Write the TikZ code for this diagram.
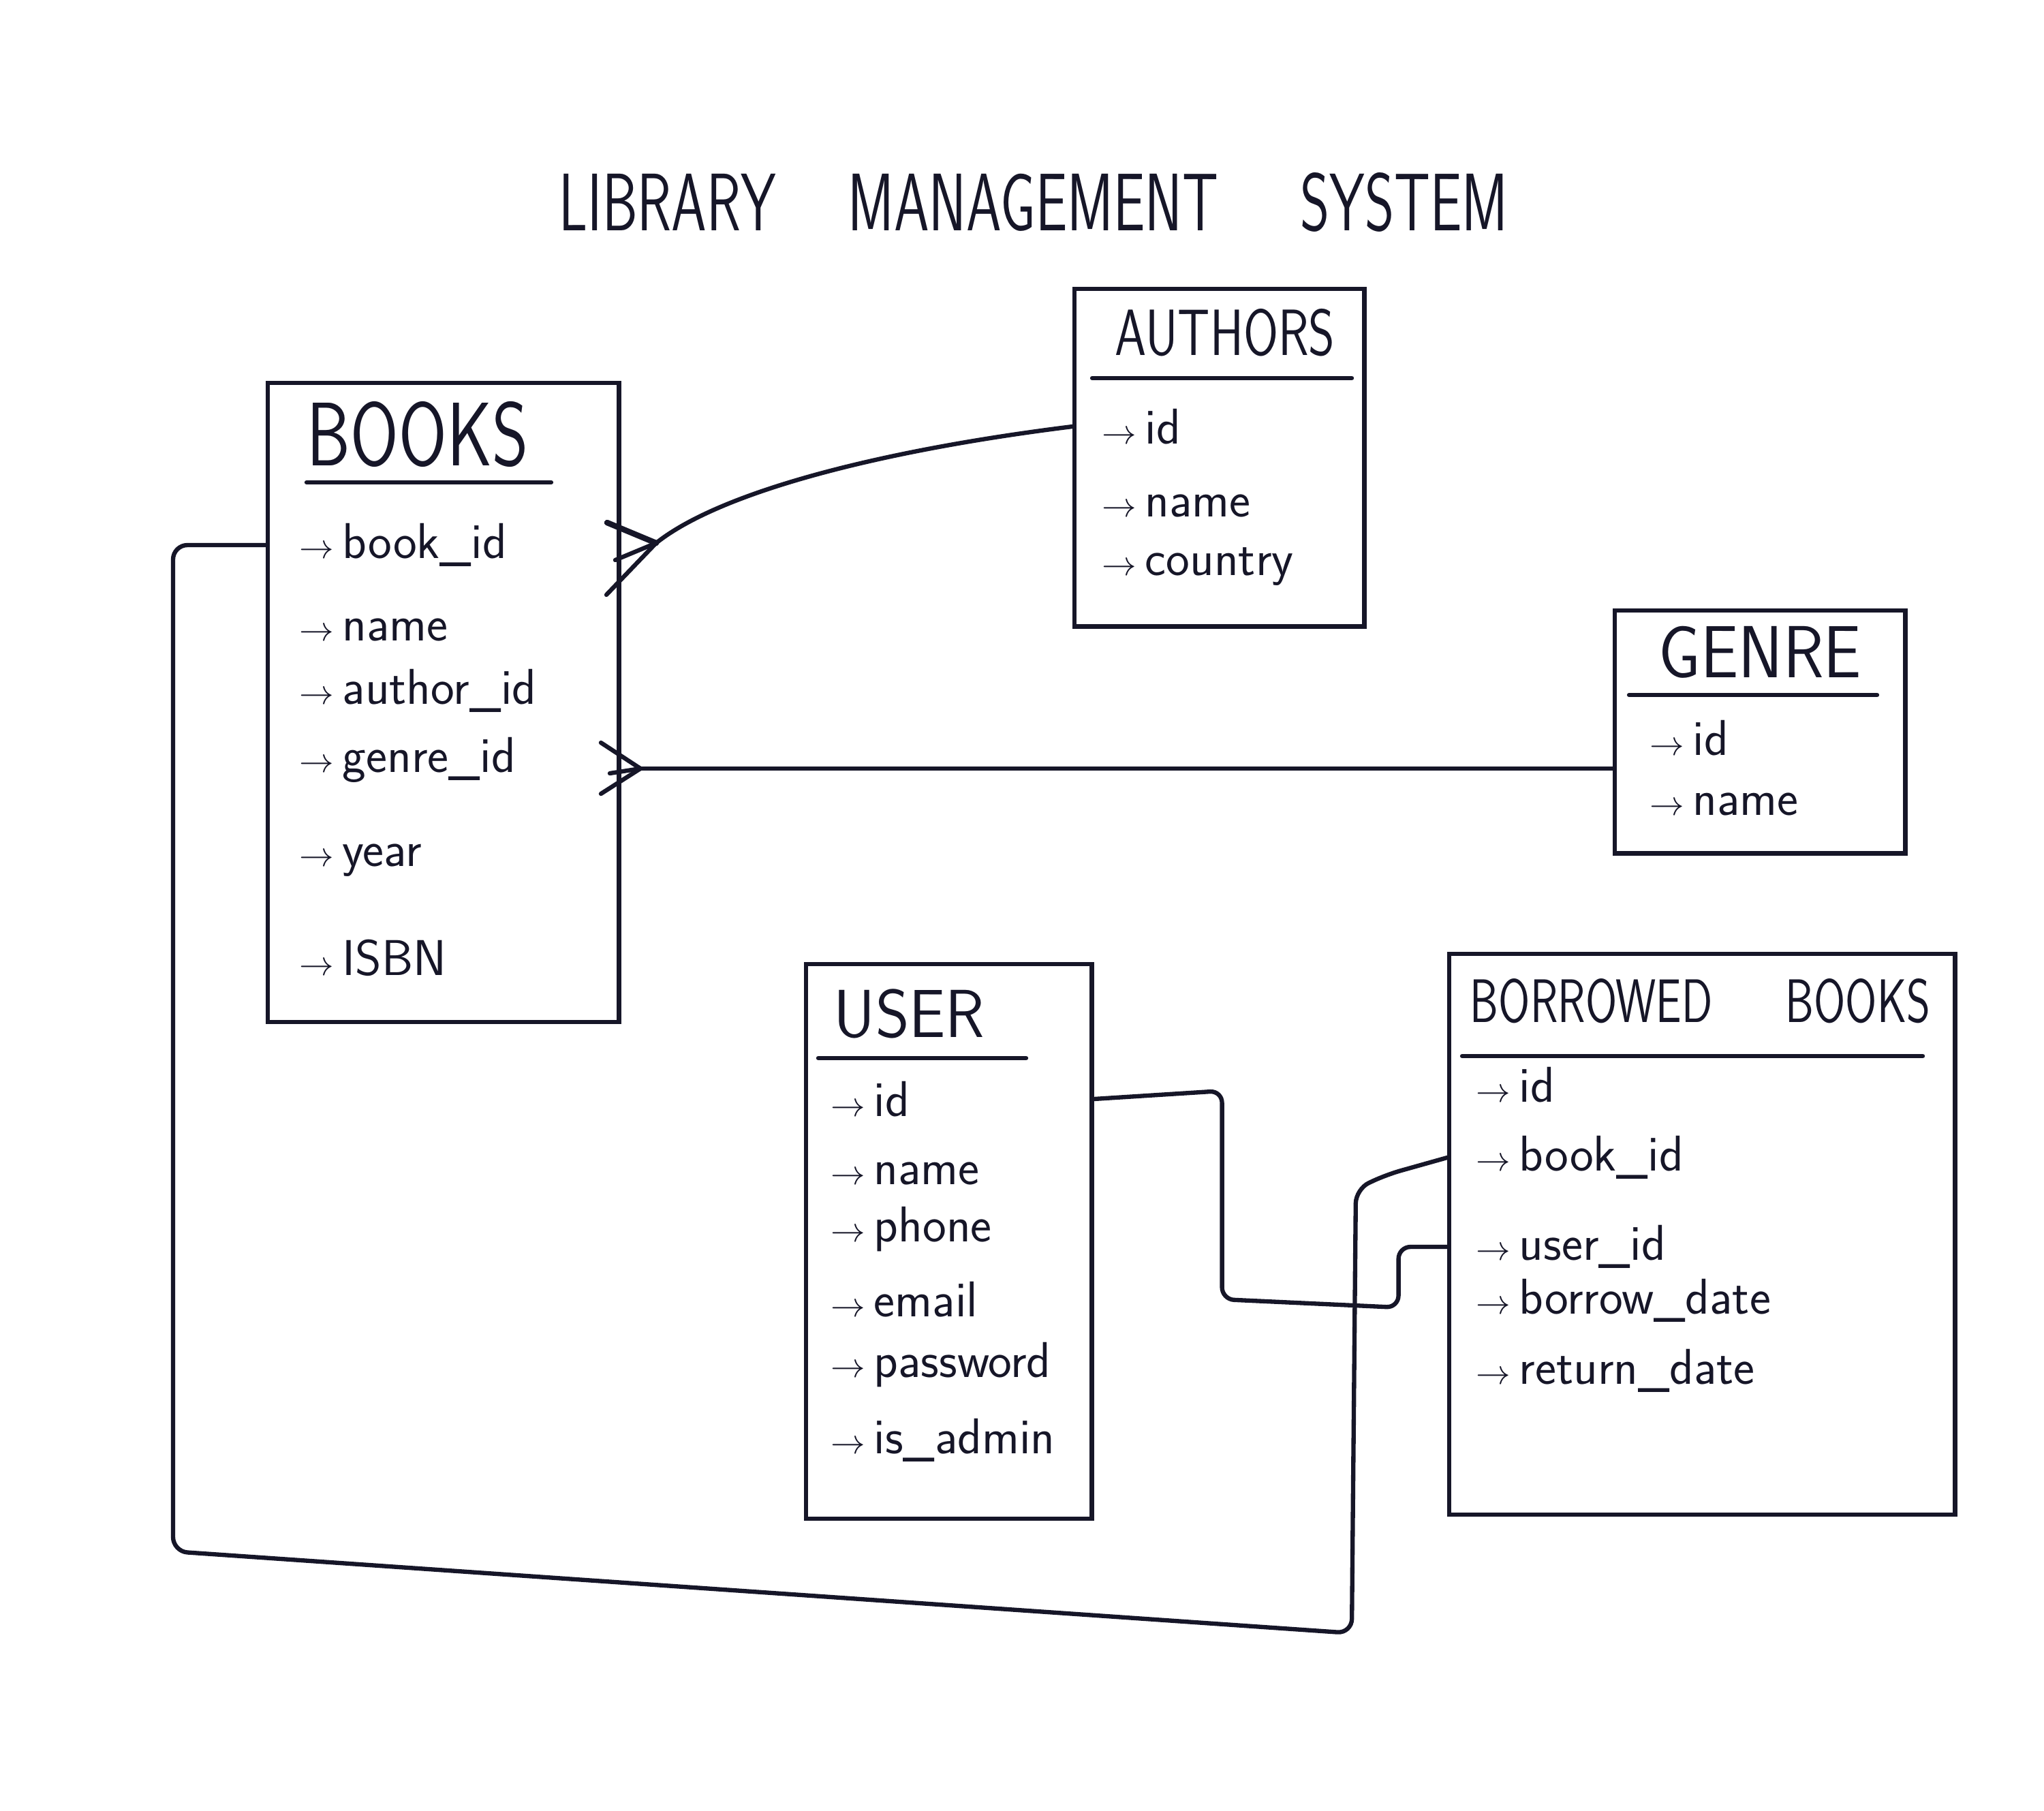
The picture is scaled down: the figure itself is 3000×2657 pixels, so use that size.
\documentclass[tikz,border=0pt]{standalone}
\usepackage{amsmath}
\usepackage{graphicx}
\usepackage{tikz}
\definecolor{ink}{RGB}{22,22,40}
\newcommand{\fieldarrow}{$\scriptstyle\rightarrow$\,}

\begin{document}
\begin{tikzpicture}[x=0.01cm,y=-0.01cm,color=ink,line width=1.8pt,line cap=round,
  entity/.style={draw,anchor=north west,inner sep=0pt},
  etitle/.style={anchor=west},
  field/.style={anchor=west,font=\sffamily\fontsize{21}{25}\selectfont},
  link/.style={line join=round}]
\fill[white] (0,0) rectangle (3000,2657);
\useasboundingbox (0,0) rectangle (3000,2657);
%title
\node[font=\sffamily\fontsize{23.5}{27}\selectfont] (title) at (1517,297)
  {\scalebox{1}[1.45]{LIBRARY\hspace{1.05cm}MANAGEMENT\hspace{1.2cm}SYSTEM}};
%BOOKS
\node[entity,minimum width=5.15cm,minimum height=9.37cm] (books) at (390,559) {};
\node[etitle,font=\sffamily\fontsize{29}{32}\selectfont] (books-title) at (436,637) {\scalebox{1}[1.3]{BOOKS}};
\draw (450,708) -- (809,708);
\foreach \y/\lbl/\n in {800/book\_id/bookid, 924/name/name, 1014/author\_id/authorid,
                        1115/genre\_id/genreid, 1263/year/year, 1406/ISBN/isbn}
{
  \node[field] (books-\n) at (425,\y) {\fieldarrow\lbl};
}
%AUTHORS
\node[entity,minimum width=4.25cm,minimum height=4.95cm] (authors) at (1574,421) {};
\node[etitle,font=\sffamily\fontsize{21}{24}\selectfont] (authors-title) at (1622,488) {\scalebox{1}[1.3]{AUTHORS}};
\draw (1603,555) -- (1984,555);
\foreach \y/\lbl/\n in {626/id/id, 742/name/name, 832/country/country}
{
  \node[field] (authors-\n) at (1603,\y) {\fieldarrow\lbl};
}
%GENRE
\node[entity,minimum width=4.26cm,minimum height=3.56cm] (genre) at (2367,893) {};
\node[etitle,font=\sffamily\fontsize{28}{31}\selectfont] (genre-title) at (2420,957) {\scalebox{1}[1.1]{GENRE}};
\draw (2391,1020) -- (2755,1020);
\foreach \y/\lbl/\n in {1083/id/id, 1180/name/name}
{
  \node[field] (genre-\n) at (2407,\y) {\fieldarrow\lbl};
}
%USER
\node[entity,minimum width=4.19cm,minimum height=8.13cm] (user) at (1180,1412) {};
\node[etitle,font=\sffamily\fontsize{27}{30}\selectfont] (user-title) at (1209,1488) {\scalebox{1}[1.05]{USER}};
\draw (1201,1553) -- (1506,1553);
\foreach \y/\lbl/\n in {1613/id/id, 1722/name/name, 1804/phone/phone, 1907/email/email,
                        2003/password/password, 2114/is\_admin/isadmin}
{
  \node[field] (user-\n) at (1205,\y) {\fieldarrow\lbl};
}
%BORROWED BOOKS
\node[entity,minimum width=7.42cm,minimum height=8.22cm] (borrowed) at (2124,1397) {};
\node[etitle,font=\sffamily\fontsize{19}{22}\selectfont] (borrowed-title) at (2143,1469)
  {\scalebox{1}[1.35]{BORROWED\hspace{1.07cm}BOOKS}};
\draw (2146,1550) -- (2822,1550);
\foreach \y/\lbl/\n in {1592/id/id, 1699/book\_id/bookid, 1830/user\_id/userid,
                        1909/borrow\_date/borrowdate, 2012/return\_date/returndate}
{
  \node[field] (borrowed-\n) at (2152,\y) {\fieldarrow\lbl};
}
%BOOKS -- AUTHORS, crow's foot on BOOKS
\coordinate (crowA) at (963,797);
\draw[link] (crowA) .. controls (1060,720) and (1300,660) .. (authors.west |- authors-id);
\draw[link,line width=2.4pt] (crowA) -- +(-72,-30);
\draw[link] (crowA) -- +(-60,25);
\draw[link] (crowA) -- +(-73,76);
%BOOKS -- GENRE, crow's foot on BOOKS
\coordinate (crowG) at (940,1128);
\draw[link] (crowG) -- (genre.west |- crowG);
\draw[link] (crowG) -- +(-58,-38);
\draw[link] (crowG) -- +(-45,7);
\draw[link] (crowG) -- +(-58,37);
%USER id -- BORROWED user_id
\draw[link,rounded corners=5pt] (user.east |- user-id) -- ++(188,-12) -- ++(0,306)
  -- ++(259,12) |- (borrowed.west |- borrowed-userid);
%BOOKS book_id -- BORROWED book_id
\draw[link,rounded corners=6pt] (books.west |- books-bookid) -| (254,2277) -- (1984,2397)
  -- (1990,1745) -- (2035,1724) -- (borrowed.west |- borrowed-bookid);
\end{tikzpicture}
\end{document}
